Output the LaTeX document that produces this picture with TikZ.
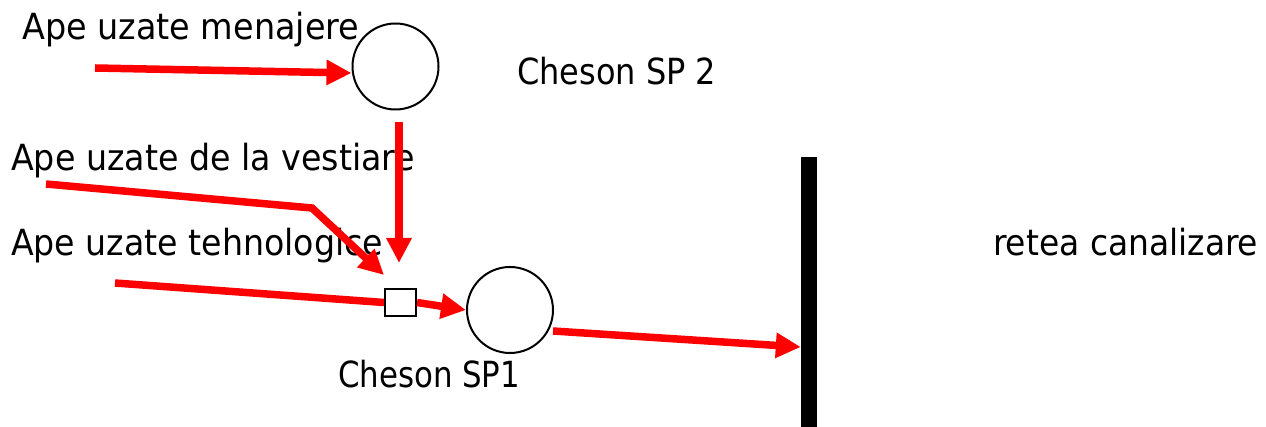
\documentclass[tikz,border=0pt]{standalone}
\usepackage{fontspec}
\usepackage{graphicx}
\setmainfont{DejaVu Sans Condensed}
\usetikzlibrary{arrows.meta}
% set a label to a given width, keeping its natural height
\newcommand\fitto[2]{\resizebox{#1}{\height}{#2}}
\begin{document}
\begin{tikzpicture}[x=1pt,y=-1pt,
  lbl/.style={anchor=base west,inner sep=0pt,font=\fontsize{36}{42}\selectfont},
  chamber/.style={draw=black,line width=2pt,circle,minimum size=86pt,inner sep=0pt},
  flow/.style={draw=red,line width=7.5pt,-{Triangle[length=25pt,width=24pt]}},
  pipe/.style={draw=red,line width=7.5pt}]
  \useasboundingbox (0,0) rectangle (1266,427);
  % chambers and junction
  \node[chamber] (sp2) at (395.5,66.5) {};
  \node[chamber] (sp1) at (510,310) {};
  \node[draw=black,line width=2pt,minimum width=31pt,minimum height=27pt,inner sep=0pt] (box) at (400.5,302.5) {};
  % sewer network
  \node[fill=black,minimum width=16pt,minimum height=270pt,inner sep=0pt,anchor=north] (net) at (809,157) {};
  % labels
  \node[lbl] (tmen) at (22,40) {\fitto{337pt}{Ape uzate menajere}};
  \node[lbl] (tsp2) at (517,85) {\fitto{199pt}{Cheson SP 2}};
  \node[lbl] (tves) at (11,171) {\fitto{404pt}{Ape uzate de la vestiare}};
  \node[lbl] (tteh) at (11,256) {\fitto{372pt}{Ape uzate tehnologice}};
  \node[lbl] (tret) at (993,256) {\fitto{265pt}{retea canalizare}};
  \node[lbl] (tsp1) at (338,388) {\fitto{182pt}{Cheson SP1}};
  % flow start points
  \coordinate (m0) at (95,68);
  \coordinate (v0) at (46,184);
  \coordinate (vb) at (312,208);
  \coordinate (vt) at (384,275);
  \coordinate (t0) at (115,283);
  \coordinate (s0) at (399,122);
  \coordinate (st) at (399,263);
  % flows
  \draw[flow] (m0) -- (sp2.west|-0,73);
  \draw[flow] (s0) -- (st);
  \draw[flow] (v0) -- (vb) -- (vt);
  \draw[pipe] (t0) -- (box.west);
  \draw[flow] (box.east) -- (sp1.west);
  \draw[flow] (553,331) -- (net.west|-0,347);
\end{tikzpicture}
\end{document}
